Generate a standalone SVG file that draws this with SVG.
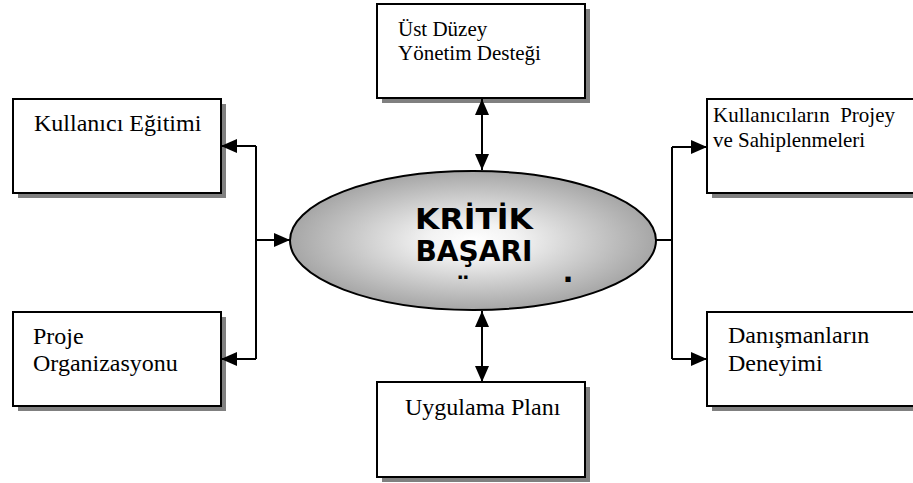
<svg xmlns="http://www.w3.org/2000/svg" width="913" height="483" viewBox="0 0 913 483">
  <style>
    .box { fill: #ffffff; stroke: #000000; stroke-width: 2; }
    .shadow { fill: #808080; }
    .lbl { font-family: 'Liberation Serif', 'DejaVu Serif', serif; font-size: 24px; fill: #000; }
    .lbl21 { font-family: 'Liberation Serif', 'DejaVu Serif', serif; font-size: 21px; fill: #000; }
    .conn { stroke: #000; stroke-width: 2; fill: none; }
    .title { font-family: 'DejaVu Sans', sans-serif; font-weight: bold; font-size: 29px; fill: #000; }
  </style>
  <defs>
    <radialGradient id="g" cx="50%" cy="50%" r="50%">
      <stop offset="0" stop-color="#ffffff"/>
      <stop offset="0.25" stop-color="#f2f2f2"/>
      <stop offset="1" stop-color="#a6a6a6"/>
    </radialGradient>
    <marker id="ah" markerUnits="userSpaceOnUse" markerWidth="16" markerHeight="14" refX="16" refY="7" orient="auto-start-reverse" viewBox="0 0 16 14">
      <path d="M0,0 L16,7 L0,14 Z" fill="#000"/>
    </marker>
  </defs>
  <rect width="913" height="483" fill="#ffffff"/>

  <g id="node-kullanici-egitimi">
    <rect class="shadow" x="18" y="104" width="208" height="94"/>
    <rect class="box" x="13" y="99" width="208" height="94"/>
    <text class="lbl" x="34" y="131">Kullanıcı Eğitimi</text>
  </g>

  <g id="node-proje-organizasyonu">
    <rect class="shadow" x="18" y="317" width="208" height="94"/>
    <rect class="box" x="13" y="312" width="208" height="94"/>
    <text class="lbl" x="33" y="344">Proje</text>
    <text class="lbl" x="33" y="371">Organizasyonu</text>
  </g>

  <g id="node-ust-duzey">
    <rect class="shadow" x="382" y="9" width="208" height="94"/>
    <rect class="box" x="377" y="4" width="208" height="94"/>
    <text class="lbl21" x="398" y="36">Üst Düzey</text>
    <text class="lbl21" x="398" y="60">Yönetim Desteği</text>
  </g>

  <g id="node-uygulama-plani">
    <rect class="shadow" x="382" y="387" width="208" height="95"/>
    <rect class="box" x="377" y="382" width="208" height="95"/>
    <text class="lbl" x="405" y="415">Uygulama Planı</text>
  </g>

  <g id="node-kullanicilarin-projeye">
    <rect class="shadow" x="712" y="104" width="208" height="94"/>
    <rect class="box" x="707" y="99" width="210" height="94"/>
    <text class="lbl21" x="713" y="122" xml:space="preserve">Kullanıcıların  Projey</text>
    <text class="lbl21" x="713" y="147">ve Sahiplenmeleri</text>
  </g>

  <g id="node-danismanlarin">
    <rect class="shadow" x="712" y="317" width="208" height="94"/>
    <rect class="box" x="707" y="312" width="210" height="94"/>
    <text class="lbl" x="728" y="343">Danışmanların</text>
    <text class="lbl" x="728" y="371">Deneyimi</text>
  </g>

  <g id="node-kritik-basari">
    <ellipse cx="473" cy="240.5" rx="183" ry="69.5" fill="url(#g)" stroke="#000" stroke-width="2"/>
    <text class="title" x="474" y="229" text-anchor="middle" textLength="118" lengthAdjust="spacingAndGlyphs">KRİTİK</text>
    <text class="title" x="474" y="261" text-anchor="middle" textLength="117" lengthAdjust="spacingAndGlyphs">BAŞARI</text>
    <text class="title" x="463" y="298" text-anchor="middle" font-size="22">¨</text>
    <text class="title" x="568" y="282" text-anchor="middle">.</text>
  </g>

  <g id="connectors">
    <line class="conn" x1="482" y1="170" x2="482" y2="99" marker-start="url(#ah)" marker-end="url(#ah)"/>
    <line class="conn" x1="482" y1="311" x2="482" y2="382" marker-start="url(#ah)" marker-end="url(#ah)"/>
    <polyline class="conn" points="256,240 290,240" marker-end="url(#ah)"/>
    <polyline class="conn" points="256,146 256,359"/>
    <line class="conn" x1="256" y1="146" x2="221" y2="146" marker-end="url(#ah)"/>
    <line class="conn" x1="256" y1="359" x2="221" y2="359" marker-end="url(#ah)"/>
    <line class="conn" x1="656" y1="240" x2="672" y2="240"/>
    <polyline class="conn" points="672,147 672,359"/>
    <line class="conn" x1="672" y1="147" x2="707" y2="147" marker-end="url(#ah)"/>
    <line class="conn" x1="672" y1="359" x2="707" y2="359" marker-end="url(#ah)"/>
  </g>
</svg>
